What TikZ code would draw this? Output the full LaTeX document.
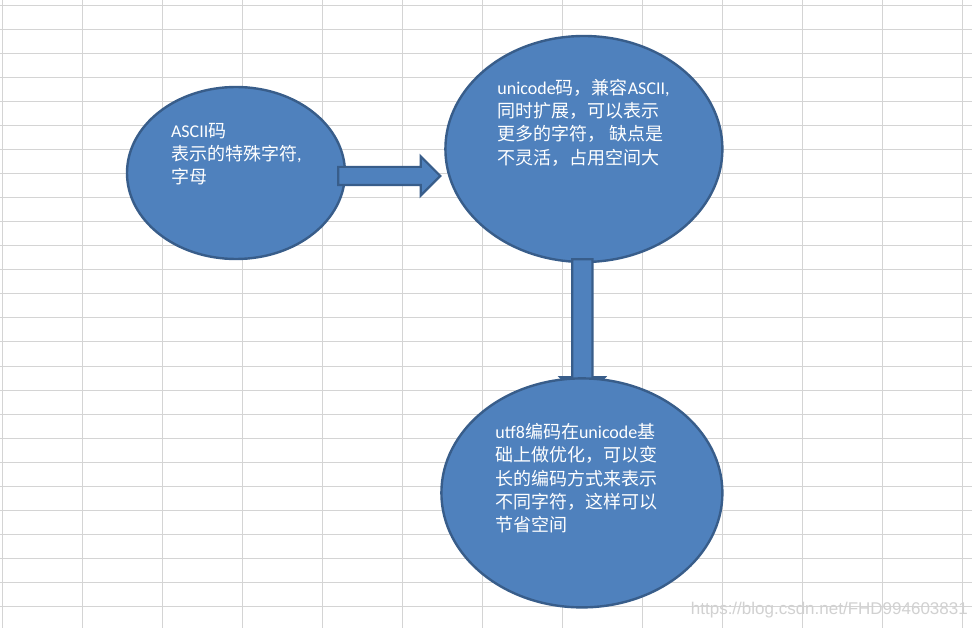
\documentclass[tikz,border=0pt]{standalone}
\usepackage{fontspec}
\setmainfont{Carlito}
\newfontfamily\cjk{Noto Sans CJK SC}
\newfontfamily\wmfont{Liberation Sans}
\usetikzlibrary{calc,positioning,shapes.geometric,shapes.arrows}
\definecolor{officeblue}{HTML}{4F81BD}
\definecolor{officeline}{HTML}{385D8A}
\definecolor{cellline}{HTML}{D4D4D4}
\def\figgridw{80}
\def\figgridh{24}

\begin{document}
\begin{tikzpicture}[
  x=1pt,y=-1pt,
  cell/.style={draw=cellline,line width=1pt},
  bubble/.style={ellipse,draw=officeline,fill=officeblue,line width=2.4pt},
  blockarrow/.style={single arrow,draw=officeline,fill=officeblue,line width=2.2pt,
    inner xsep=0pt,inner ysep=8pt,single arrow head extend=10.5pt},
  txt/.style={text=white,align=left,inner sep=0pt,font=\fontsize{18}{23.3}\selectfont},
]
\useasboundingbox[fill=white] (0,0) rectangle (972,628);

%%%%%%%%%%%%%%%
% Sheet grid
%%%%%%%%%%%%%%%
\foreach \i in {0,...,12} \draw[cell] (2+\i*\figgridw,0) -- (2+\i*\figgridw,628);
\foreach \j in {0,...,25} \draw[cell] (0,6+\j*\figgridh) -- (972,6+\j*\figgridh);

%%%%%%%%%%%%%%%
% Bubbles
%%%%%%%%%%%%%%%
\node (ascii) [bubble,minimum width=218pt,minimum height=172pt] at (236,173) {};
\node (uni) [bubble,minimum width=277pt,minimum height=226pt,right=98pt of ascii,yshift=24pt] {};

% Arrows (tail sits on the bubble it leaves)
\node (a1) [blockarrow,minimum height=102pt,anchor=tail]
  at ($(ascii.east)+(-9pt,-3pt)$) {};
\node (a2) [blockarrow,minimum height=140pt,inner ysep=9pt,single arrow head extend=12pt,
  rotate=-90,anchor=tail] at ($(uni.south)+(-1.5pt,5pt)$) {};

\node (utf) [bubble,minimum width=281pt,minimum height=229pt,below=114pt of uni,xshift=-2pt] {};

%%%%%%%%%%%%%%%
% Texts
%%%%%%%%%%%%%%%
\node (t1) [txt,anchor=north west] at ($(ascii.west |- ascii.north)+(45pt,-37pt)$)
  {ASCII{\cjk 码}\\{\cjk 表示的特殊字符}{,}\\{\cjk 字母}};
\node (t2) [txt,anchor=north west] at ($(uni.west |- uni.north)+(53pt,-44pt)$)
  {unicode{\cjk 码，兼容}ASCII,\\{\cjk 同时扩展，可以表示}\\{\cjk 更多的字符，} {\cjk 缺点是}\\{\cjk 不灵活，占用空间大}};
\node (t3) [txt,anchor=north west] at ($(utf.west |- utf.north)+(55pt,-46pt)$)
  {utf8{\cjk 编码在}unicode{\cjk 基}\\{\cjk 础上做优化，可以变}\\{\cjk 长的编码方式来表示}\\{\cjk 不同字符，这样可以}\\{\cjk 节省空间}};

% Watermark
\node (wm) [anchor=east,inner sep=0pt,text=black!18,font=\wmfont\fontsize{17}{17}\selectfont]
  at (968,610) {https://blog.csdn.net/FHD994603831};

\end{tikzpicture}
\end{document}
